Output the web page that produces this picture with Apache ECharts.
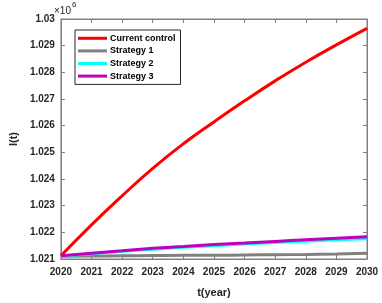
<!DOCTYPE html>
<html><head><meta charset="utf-8">
<script src="https://cdn.jsdelivr.net/npm/echarts@6/dist/echarts.min.js"></script>
<style>html,body{margin:0;padding:0;background:#fff}#c{width:382px;height:303px}</style>
</head><body><div id="c"></div>
<script>
const years = [2020,2021,2022,2023,2024,2025,2026,2027,2028,2029,2030];
const currentControl = [1.02112,1.02228,1.02337,1.02440,1.02532,1.02614,1.02693,1.02768,1.02838,1.02903,1.02965];
const strategy1 = [1.02110,1.02111,1.02112,1.02113,1.02114,1.02114,1.02115,1.02116,1.02117,1.02119,1.02122];
const strategy2 = [1.02110,1.02120,1.02129,1.02137,1.02144,1.02150,1.02156,1.02162,1.02167,1.02172,1.02176];
const strategy3 = [1.02112,1.02122,1.02131,1.02140,1.02147,1.02154,1.02160,1.02166,1.02172,1.02178,1.02183];
const seriesNames = ['Current control','Strategy 1','Strategy 2','Strategy 3'];
const seriesColors = ['#ff0000','#808080','#00ffff','#bf00bf'];
const seriesData = [currentControl, strategy1, strategy2, strategy3];

const chart = echarts.init(document.getElementById('c'));
const font = 'Liberation Sans, Arial, sans-serif';
const axisCol = '#808080';
const txt = '#262626';
const series = [];
[1,2,3,0].forEach(i=>{
  series.push({
    name: seriesNames[i], type:'line', showSymbol:false, smooth:true,
    data: years.map((y,k)=>[y, seriesData[i][k]]),
    lineStyle:{color:seriesColors[i], width:3},
    itemStyle:{color:seriesColors[i]},
    z: 2+i
  });
});
chart.setOption({
  animation:false,
  grid:{left:53,right:15,top:19,bottom:39,show:true,borderColor:axisCol,borderWidth:1},
  legend:{
    data: seriesNames, orient:'vertical', left:75, top:30,
    backgroundColor:'#fff', borderColor:'#262626', borderWidth:1,
    padding:[2,5,2,3], itemGap:0, itemWidth:29, itemHeight:3, icon:'rect',
    textStyle:{fontFamily:font,fontWeight:'bold',fontSize:9,color:'#000',lineHeight:12.6,padding:[0,0,0,-2]}
  },
  xAxis:[{
    type:'value', min:2020, max:2030, interval:1,
    name:'t(year)', nameLocation:'middle', nameGap:28,
    nameTextStyle:{fontFamily:font,fontWeight:'bold',fontSize:11,color:txt},
    axisLine:{lineStyle:{color:axisCol}},
    axisTick:{inside:true,length:4,lineStyle:{color:axisCol}},
    axisLabel:{fontFamily:font,fontWeight:'bold',fontSize:10,color:txt,margin:8,formatter:v=>String(v)},
    splitLine:{show:false}
  },{
    type:'value', min:2020, max:2030, interval:1, position:'top',
    axisLine:{lineStyle:{color:axisCol}},
    axisTick:{inside:true,length:4,lineStyle:{color:axisCol}},
    axisLabel:{show:false}, splitLine:{show:false}
  }],
  yAxis:[{
    type:'value', min:1.021, max:1.03, interval:0.001,
    name:'I(t)', nameLocation:'middle', nameGap:40,
    nameTextStyle:{fontFamily:font,fontWeight:'bold',fontSize:11,color:txt},
    axisLine:{show:true,lineStyle:{color:axisCol}},
    axisTick:{show:true,inside:true,length:4,lineStyle:{color:axisCol}},
    axisLabel:{fontFamily:font,fontWeight:'bold',fontSize:10,color:txt,margin:6,
      formatter:v=>parseFloat(v.toFixed(3)).toString()},
    splitLine:{show:false}
  },{
    type:'value', min:1.021, max:1.03, interval:0.001, position:'right',
    axisLine:{show:true,lineStyle:{color:axisCol}},
    axisTick:{show:true,inside:true,length:4,lineStyle:{color:axisCol}},
    axisLabel:{show:false}, splitLine:{show:false}
  }],
  graphic:[
    {type:'text', left:54, top:6, style:{text:'×10', fontFamily:font, fontSize:10, fill:txt}},
    {type:'text', left:72, top:1, style:{text:'6', fontFamily:font, fontSize:8, fill:txt}}
  ],
  series: series
});
</script></body></html>
